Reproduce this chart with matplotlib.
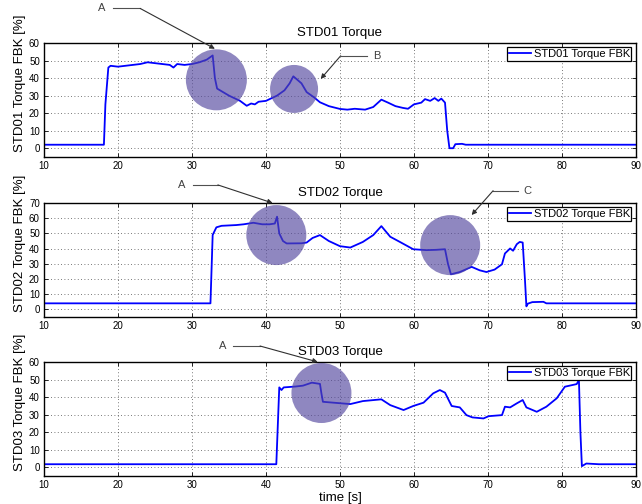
import matplotlib
matplotlib.use("Agg")
import matplotlib.pyplot as plt

plt.rcParams["font.family"] = ["Liberation Sans", "DejaVu Sans"]

# STD01 torque feedback (time [s], torque [%])
t1 = [10, 18.1, 18.3, 18.7, 19.0, 20, 21, 22, 23, 24, 25, 26, 27, 27.5, 28, 29, 30, 31, 32, 32.8,
      33.1, 33.4, 35, 36.5, 37.4, 38, 38.5, 39, 40, 40.5, 41.5, 42.5, 43.2, 43.7, 44.8, 45.5, 46.5,
      47.3, 48.5, 50, 51, 52, 53.4, 54.5, 55.6, 56.5, 57.5, 58.5, 59.2, 60, 61, 61.5, 62.2, 62.8,
      63.3, 63.7, 64.2, 64.5, 64.8, 65.3, 65.6, 66.5, 67, 70, 75, 80, 85, 90]
v1 = [2, 2, 25, 46, 47, 46.5, 47, 47.5, 48, 49, 48.5, 48, 47.5, 46, 48, 47.5, 48, 49, 50.5, 52.9,
      40, 34, 30, 27, 24.2, 25.5, 25, 26.5, 27, 28, 30, 33, 37, 41, 37, 32, 29,
      26.2, 24, 22.4, 22, 22.5, 22, 23.5, 27.7, 26, 24, 23, 22.5, 25, 26, 28, 27, 28.6,
      27, 28.3, 26, 10, 0, 0, 2.3, 2.5, 2, 2, 2, 2, 2, 2]

# STD02 torque feedback
t2 = [10, 32.5, 32.8, 33.3, 34, 36, 37, 38.3, 39.5, 40.5, 41.2, 41.5, 41.8, 42.3, 42.8, 44.8,
      45.5, 46.3, 47.3, 48.5, 50, 51.4, 53.1, 54.5, 55.6, 56.8, 58.1, 59.9, 61.7, 63, 64.2,
      64.6, 65.0, 66.2, 67.8, 68.9, 69.8, 70.9, 71.9, 72.3, 73.0, 73.4, 73.9, 74.3, 74.7,
      75.0, 75.2, 75.4, 76, 77.5, 77.9, 80, 85, 90]
v2 = [4, 4, 49, 54, 55, 55.5, 56, 57, 56, 56, 56.5, 61, 50, 45, 43.4, 43.5,
      44, 47, 48.9, 45, 41.6, 40.7, 44.4, 48.9, 54.8, 47.8, 44.4, 39.6, 39, 39.2, 39.6,
      30, 23.1, 24.6, 28, 25.7, 24.6, 26.2, 29.7, 36.8, 40.1, 38.6, 42.9, 44.4, 44,
      20, 2, 3.8, 4.8, 5, 4, 4, 4, 4]

# STD03 torque feedback
t3 = [10, 41.4, 41.8, 42.1, 42.4, 44, 45, 46.2, 47.3, 47.5, 47.7, 49.1, 51.4, 53.1, 55.6,
      56.8, 58.6, 59.9, 61.3, 62.6, 63.5, 64.2, 65.1, 66.2, 67.1, 67.9, 69.4, 70.1, 71.9,
      72.3, 73.0, 73.9, 74.7, 75.2, 76.6, 77.9, 79.3, 80.4, 82.0, 82.3, 82.5, 82.7, 83.3,
      85, 90]
v3 = [1.7, 1.7, 45.5, 44, 45.5, 46, 46.5, 48.2, 47.5, 42, 37.3, 36.8, 36, 37.7, 38.7,
      35.4, 32.6, 34.9, 36.8, 42.1, 44, 42.5, 34.9, 34.1, 29.7, 28.4, 27.8, 29.1, 29.7,
      34.5, 34.1, 36.4, 38.3, 34.1, 31.6, 34.5, 39.3, 45.9, 47.4, 49.7, 20, 0.6, 2.1,
      1.7, 1.7]

series = [(t1, v1), (t2, v2), (t3, v3)]
titles = ["STD01 Torque", "STD02 Torque", "STD03 Torque"]
ylabels = ["STD01 Torque FBK [%]", "STD02 Torque FBK [%]", "STD03 Torque FBK [%]"]
legends = ["STD01 Torque FBK", "STD02 Torque FBK", "STD03 Torque FBK"]
ytops = [60, 70, 60]

# highlight circles per panel: (x, y, diameter in px)
circles = [
    [(33.3, 39.0, 61), (43.8, 33.8, 48)],
    [(41.4, 48.9, 60), (64.9, 42.3, 60)],
    [(47.5, 42.3, 60)],
]

# callouts per panel: label, text pos, line start, bend, arrow tip
callouts = [
    [("A", (17.8, 79.7), (19.3, 79.7), (23.0, 79.7), (33.1, 56.7)),
     ("B", (55.0, 52.7), (53.6, 52.7), (50.1, 52.7), (47.4, 39.5))],
    [("A", (28.6, 81.9), (30.1, 81.9), (33.5, 81.9), (40.9, 70.0)),
     ("C", (75.4, 78.1), (74.1, 78.1), (70.7, 78.1), (67.8, 62.1))],
    [("A", (34.1, 69.1), (35.5, 69.1), (39.2, 69.1), (47.0, 60.0))],
]

fig = plt.figure(figsize=(6.42, 5.04), dpi=100)
bottoms = [0.6885, 0.371, 0.0556]

for i in range(3):
    ax = fig.add_axes([0.0685, bottoms[i], 0.922, 0.2262])
    t, v = series[i]
    ax.plot(t, v, color="#0000ff", lw=1.3, label=legends[i], zorder=2)

    for cx, cy, d in circles[i]:
        s = (d * 72 / 100) ** 2
        ax.scatter([cx], [cy], s=s, color=(0.33, 0.28, 0.62), alpha=0.65,
                   edgecolors="none", zorder=3, clip_on=False)

    for lab, tp, ls, bend, tip in callouts[i]:
        ax.text(tp[0], tp[1], lab, fontsize=8, color="#404040",
                ha="center", va="center", clip_on=False)
        ax.plot([ls[0], bend[0]], [ls[1], bend[1]], color="#505050", lw=0.8,
                clip_on=False, zorder=4)
        ax.annotate("", xy=tip, xytext=bend, annotation_clip=False,
                    arrowprops=dict(arrowstyle="-|>", color="#303030", lw=0.8,
                                    mutation_scale=7, shrinkA=0, shrinkB=0),
                    zorder=4)

    ax.set_xlim(10, 90)
    ax.set_ylim(-5, ytops[i])
    ax.set_xticks(range(10, 91, 10))
    ax.set_yticks(range(0, ytops[i] + 1, 10))
    ax.grid(True, color="#000000", linestyle=(0, (1, 3)), lw=0.6, alpha=0.7)
    ax.tick_params(direction="in", length=3, width=0.6, labelsize=7,
                   top=True, right=True, pad=3)
    for sp in ax.spines.values():
        sp.set_linewidth(1.0)
    ax.set_title(titles[i], fontsize=9.5, pad=5)
    ax.set_ylabel(ylabels[i], fontsize=9.5)
    ax.yaxis.set_label_coords(-0.03, 0.65)
    leg = ax.legend(loc="upper right", fontsize=8, handlelength=2.0, handletextpad=0.2,
                    borderpad=0.15, borderaxespad=0.4, fancybox=False, framealpha=1)
    leg.get_frame().set_edgecolor("black")
    leg.get_frame().set_linewidth(0.9)
    if i == 2:
        ax.set_xlabel("time [s]", fontsize=9.5, labelpad=1)

fig.savefig("out.png", dpi=100)
